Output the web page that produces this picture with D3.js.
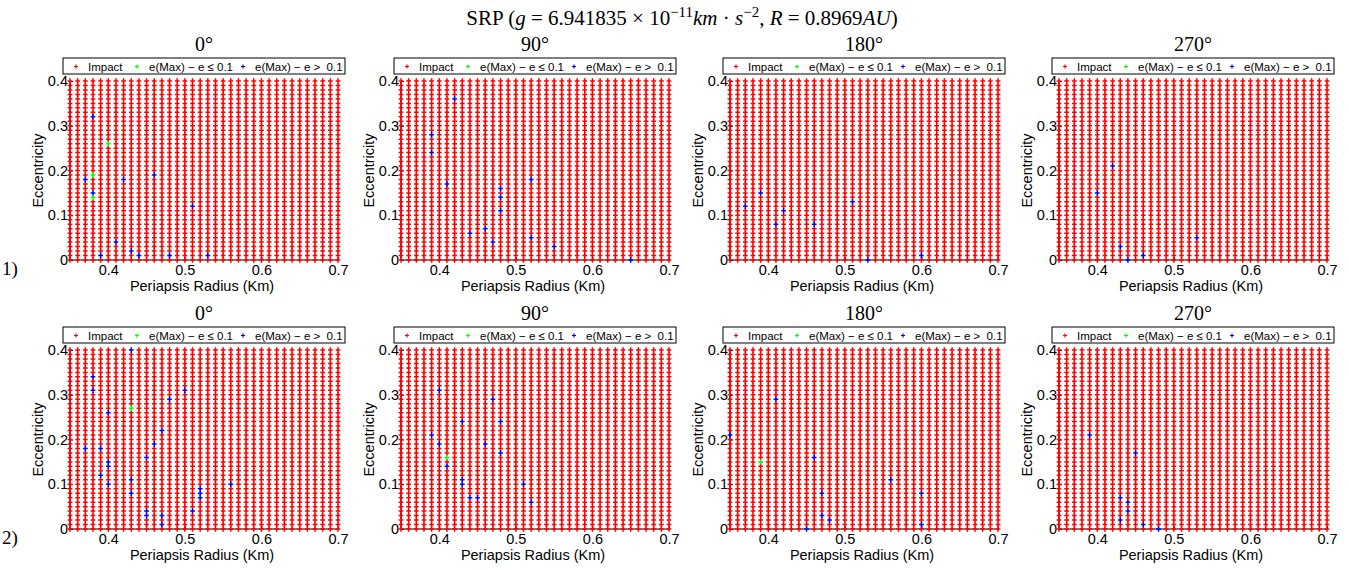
<!DOCTYPE html>
<html><head><meta charset="utf-8">
<script src="https://cdn.jsdelivr.net/npm/d3@7"></script>
<style>body{margin:0;background:#fff}svg{display:block}</style>
</head><body>
<svg id="c" width="1349" height="570"></svg>
<script>
// ---------------- DATA ----------------
const radii = [0.35,0.36,0.37,0.38,0.39,0.40,0.41,0.42,0.43,0.44,0.45,0.46,0.47,0.48,0.49,0.50,0.51,0.52,0.53,0.54,0.55,0.56,0.57,0.58,0.59,0.60,0.61,0.62,0.63,0.64,0.65,0.66,0.67,0.68,0.69,0.70];
const eccs = [0.00,0.01,0.02,0.03,0.04,0.05,0.06,0.07,0.08,0.09,0.10,0.11,0.12,0.13,0.14,0.15,0.16,0.17,0.18,0.19,0.20,0.21,0.22,0.23,0.24,0.25,0.26,0.27,0.28,0.29,0.30,0.31,0.32,0.33,0.34,0.35,0.36,0.37,0.38,0.39,0.40];
const angleLabels = ["0°","90°","180°","270°"];
const rowLabels = ["1)","2)"];
const xTicks = [0.4,0.5,0.6,0.7];
const xTickLabels = ["0.4","0.5","0.6","0.7"];
const yTicks = [0,0.1,0.2,0.3,0.4];
const yTickLabels = ["0","0.1","0.2","0.3","0.4"];
const legendLabels = ["Impact","e(Max) − e ≤ 0.1","e(Max) − e >  0.1"];
const seriesColors = ["#ff0000","#00ff00","#0000ff"];

// [radius, eccentricity] of non-impact runs, per panel
const blueR1A0 = [[0.38,0.32],[0.37,0.18],[0.38,0.15],[0.42,0.18],[0.46,0.19],[0.51,0.12],[0.41,0.04],[0.43,0.02],[0.39,0.01],[0.44,0.01],[0.48,0.01],[0.53,0.01]];
const greenR1A0 = [[0.40,0.26],[0.38,0.19],[0.38,0.14]];
const blueR1A90 = [[0.42,0.36],[0.39,0.28],[0.39,0.24],[0.41,0.17],[0.52,0.18],[0.48,0.16],[0.48,0.14],[0.48,0.11],[0.44,0.06],[0.46,0.07],[0.47,0.04],[0.52,0.05],[0.55,0.03],[0.65,0.00]];
const greenR1A90 = [];
const blueR1A180 = [[0.37,0.12],[0.39,0.15],[0.41,0.08],[0.42,0.11],[0.46,0.08],[0.51,0.13],[0.53,0.00],[0.60,0.01]];
const greenR1A180 = [];
const blueR1A270 = [[0.42,0.21],[0.40,0.15],[0.43,0.03],[0.44,0.00],[0.46,0.01],[0.53,0.05]];
const greenR1A270 = [];
const blueR2A0 = [[0.43,0.40],[0.38,0.34],[0.38,0.31],[0.50,0.31],[0.48,0.29],[0.40,0.26],[0.47,0.22],[0.37,0.18],[0.39,0.18],[0.46,0.19],[0.40,0.15],[0.40,0.14],[0.45,0.16],[0.39,0.12],[0.40,0.10],[0.43,0.11],[0.43,0.08],[0.52,0.09],[0.52,0.08],[0.52,0.07],[0.56,0.10],[0.45,0.04],[0.45,0.03],[0.47,0.03],[0.47,0.01],[0.51,0.04]];
const greenR2A0 = [[0.43,0.27]];
const blueR2A90 = [[0.40,0.31],[0.39,0.21],[0.40,0.19],[0.41,0.14],[0.43,0.24],[0.43,0.11],[0.43,0.10],[0.44,0.07],[0.45,0.07],[0.46,0.19],[0.47,0.29],[0.48,0.24],[0.48,0.17],[0.51,0.10],[0.52,0.06]];
const greenR2A90 = [[0.41,0.16]];
const blueR2A180 = [[0.35,0.21],[0.41,0.29],[0.45,0.00],[0.46,0.16],[0.47,0.08],[0.47,0.03],[0.48,0.02],[0.56,0.11],[0.60,0.08],[0.60,0.01]];
const greenR2A180 = [[0.39,0.15]];
const blueR2A270 = [[0.39,0.21],[0.45,0.17],[0.43,0.07],[0.44,0.06],[0.44,0.04],[0.43,0.02],[0.46,0.01],[0.48,0.00]];
const greenR2A270 = [];

const panels = [
  [{blue:blueR1A0,green:greenR1A0},{blue:blueR1A90,green:greenR1A90},{blue:blueR1A180,green:greenR1A180},{blue:blueR1A270,green:greenR1A270}],
  [{blue:blueR2A0,green:greenR2A0},{blue:blueR2A90,green:greenR2A90},{blue:blueR2A180,green:greenR2A180},{blue:blueR2A270,green:greenR2A270}]
];

// ---------------- LAYOUT ----------------
const svg = d3.select("#c");
const colLeft = [70, 401, 730, 1059];
const rowTop = [81, 350];
const W = 268, H = 179;
const sans = "'Liberation Sans', Arial, sans-serif";
const serif = "'Liberation Serif', 'DejaVu Serif', serif";

// main title
const t = svg.append("text").attr("x", 682).attr("y", 25).attr("text-anchor","middle")
  .attr("font-family", serif).attr("font-size", 21).attr("fill","#000");
t.append("tspan").text("SRP (");
t.append("tspan").attr("font-style","italic").text("g");
t.append("tspan").text(" = 6.941835 × 10");
t.append("tspan").attr("font-size",15).attr("dy",-8).text("−11");
t.append("tspan").attr("font-style","italic").attr("dy",8).text("km");
t.append("tspan").text(" · ");
t.append("tspan").attr("font-style","italic").text("s");
t.append("tspan").attr("font-size",15).attr("dy",-8).text("−2");
t.append("tspan").attr("dy",8).text(", ");
t.append("tspan").attr("font-style","italic").text("R");
t.append("tspan").text(" = 0.8969");
t.append("tspan").attr("font-style","italic").text("AU");
t.append("tspan").text(")");

rowLabels.forEach((lab, ri) => {
  svg.append("text").attr("x", 2).attr("y", rowTop[ri] + H + 15)
    .attr("font-family", serif).attr("font-size", 19).text(lab);
});

panels.forEach((row, ri) => {
  row.forEach((p, ci) => {
    const x0 = colLeft[ci], y0 = rowTop[ri];
    const x = d3.scaleLinear().domain([0.35, 0.70]).range([x0, x0 + W]);
    const y = d3.scaleLinear().domain([0, 0.40]).range([y0 + H, y0]);
    const g = svg.append("g");

    // subplot title
    g.append("text").attr("x", x0 + W/2).attr("y", y0 - 30).attr("text-anchor","middle")
      .attr("font-family", serif).attr("font-size", 20).text(angleLabels[ci]);

    // build categories
    const key = (r,e) => r.toFixed(2)+"_"+e.toFixed(2);
    const special = new Map();
    p.green.forEach(d => special.set(key(d[0],d[1]), 1));
    p.blue.forEach(d => special.set(key(d[0],d[1]), 2));
    const pts = [];
    radii.forEach(r => eccs.forEach(e => {
      const k = key(r,e);
      pts.push({r, e, c: special.has(k) ? special.get(k) : 0});
    }));

    // axes
    const ax = g.append("g").attr("transform", `translate(0,${y0+H})`)
      .call(d3.axisBottom(x).tickValues(xTicks).tickFormat((d,i)=>xTickLabels[i]).tickSize(-3).tickPadding(5));
    const ay = g.append("g").attr("transform", `translate(${x0},0)`)
      .call(d3.axisLeft(y).tickValues(yTicks).tickFormat((d,i)=>yTickLabels[i]).tickSize(-3).tickPadding(2));
    [ax, ay].forEach(a => {
      a.select(".domain").attr("stroke","#000").attr("stroke-width",1.2);
      a.selectAll("text").attr("font-family", sans).attr("font-size", 14.5).attr("fill","#000");
      a.selectAll(".tick line").attr("stroke","#000");
    });
    ax.select(".domain").attr("d", `M${x0},0H${x0+W}`);
    ay.select(".domain").attr("d", `M0,${y0}V${y0+H}`);

    // markers: red first, then green, blue
    [0,1,2].forEach(c => {
      g.append("g").attr("stroke", seriesColors[c]).attr("stroke-width", 1.5).attr("fill","none")
        .selectAll("path").data(pts.filter(d => d.c === c)).join("path")
        .attr("d", d => `M${x(d.r)-2.4},${y(d.e)}H${x(d.r)+2.4}M${x(d.r)},${y(d.e)-2.7}V${y(d.e)+2.7}`);
    });

    // axis labels
    g.append("text").attr("x", x0 + W/2 - 2).attr("y", y0 + H + 31).attr("text-anchor","middle")
      .attr("font-family", sans).attr("font-size", 14.5).text("Periapsis Radius (Km)");
    g.append("text").attr("transform", `translate(${x0-27},${y0+H/2}) rotate(-90)`).attr("text-anchor","middle")
      .attr("font-family", sans).attr("font-size", 14.5).text("Eccentricity");

    // legend
    const lx = x0 - 7, ly = y0 - 23, lw = 282, lh = 16;
    const lg = g.append("g");
    lg.append("rect").attr("x", lx).attr("y", ly).attr("width", lw).attr("height", lh)
      .attr("fill","#fff").attr("stroke","#000").attr("stroke-width",1);
    const itemX = [13, 74, 180];
    legendLabels.forEach((lab, i) => {
      lg.append("path").attr("stroke", seriesColors[i]).attr("stroke-width",1.2)
        .attr("d", `M${lx+itemX[i]-2},${ly+8.5}H${lx+itemX[i]+2}M${lx+itemX[i]},${ly+6.5}V${ly+10.5}`);
      lg.append("text").attr("x", lx + itemX[i] + 12).attr("y", ly + 12.5)
        .attr("font-family", sans).attr("font-size", 11.5).attr("xml:space","preserve").text(lab);
    });
  });
});
</script>
</body></html>
